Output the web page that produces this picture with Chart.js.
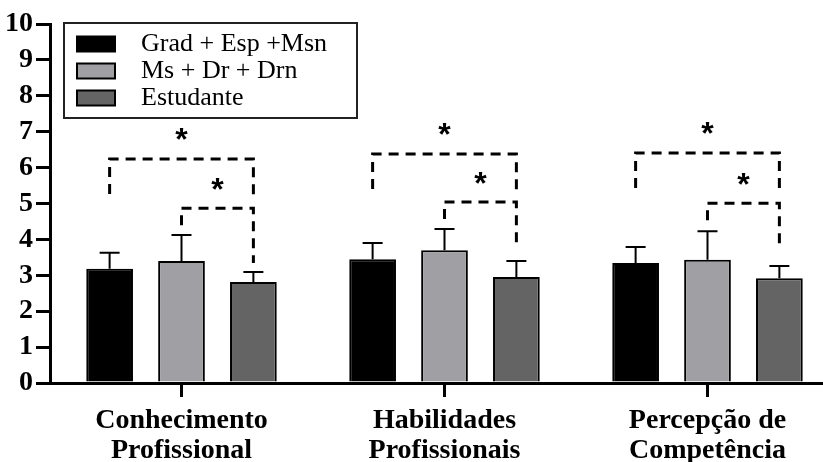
<!DOCTYPE html>
<html>
<head>
<meta charset="utf-8">
<script src="https://cdn.jsdelivr.net/npm/chart.js@4.4.1/dist/chart.umd.min.js"></script>
<style>
  body { margin: 0; overflow: hidden; background: #fff; }
</style>
</head>
<body>
<canvas id="grafico" width="839" height="462"></canvas>
<script>
const categorias = [['Conhecimento', 'Profissional'], ['Habilidades', 'Profissionais'], ['Percepção de', 'Competência']]
const grupos = ['Grad + Esp +Msn', 'Ms + Dr + Drn', 'Estudante']

// medias e desvios
const mediaGrad = [3.18, 3.45, 3.34]
const mediaMs = [3.40, 3.70, 3.43]
const mediaEst = [2.81, 2.95, 2.92]
const dpGrad = [0.45, 0.45, 0.45]
const dpMs = [0.72, 0.59, 0.80]
const dpEst = [0.28, 0.45, 0.34]

// colchetes de significancia
const nivelExterno = [6.24, 6.38, 6.41]
const nivelInterno = [4.87, 5.04, 5.01]
const fimDireito = [3.34, 3.76, 3.70]

const serif = "'Liberation Serif', 'Times New Roman', serif"

const barrasErro = {
  id: 'barrasErro',
  afterDatasetsDraw(chart) {
    const ctx = chart.ctx
    const y = chart.scales.y
    ctx.save()
    ctx.strokeStyle = '#000'
    ctx.lineWidth = 2
    chart.data.datasets.forEach((ds, i) => {
      chart.getDatasetMeta(i).data.forEach((bar, j) => {
        const topo = y.getPixelForValue(ds.data[j] + ds.dp[j])
        ctx.beginPath()
        ctx.moveTo(bar.x, bar.y)
        ctx.lineTo(bar.x, topo)
        ctx.moveTo(bar.x - 10, topo)
        ctx.lineTo(bar.x + 10, topo)
        ctx.stroke()
      })
    })
    ctx.restore()
  }
}

const colchetes = {
  id: 'colchetes',
  afterLayout(chart) {
    chart.legend.left = chart.chartArea.left + 26
    chart.legend.top = chart.chartArea.top + 6
  },
  afterDraw(chart) {
    const ctx = chart.ctx
    const y = chart.scales.y
    const a = chart.getDatasetMeta(0).data
    const b = chart.getDatasetMeta(1).data
    const c = chart.getDatasetMeta(2).data
    ctx.save()
    ctx.strokeStyle = '#000'
    ctx.lineWidth = 3
    ctx.setLineDash([10, 7])
    ctx.fillStyle = '#000'
    ctx.font = "bold 32px 'Liberation Sans', Arial, sans-serif"
    ctx.textAlign = 'center'
    ctx.textBaseline = 'alphabetic'
    for (let j = 0; j < categorias.length; j++) {
      const yExt = y.getPixelForValue(nivelExterno[j])
      const yInt = y.getPixelForValue(nivelInterno[j])
      const yFim = y.getPixelForValue(fimDireito[j])
      ctx.beginPath()
      ctx.moveTo(a[j].x, yExt + 35)
      ctx.lineTo(a[j].x, yExt)
      ctx.lineTo(c[j].x, yExt)
      ctx.lineTo(c[j].x, yInt - 10)
      ctx.stroke()
      ctx.beginPath()
      ctx.moveTo(b[j].x, yInt + 17)
      ctx.lineTo(b[j].x, yInt)
      ctx.lineTo(c[j].x, yInt)
      ctx.lineTo(c[j].x, yFim)
      ctx.stroke()
      ctx.fillText('*', b[j].x, yExt - 9)
      ctx.fillText('*', (b[j].x + c[j].x) / 2, yInt - 8)
    }
    // moldura da legenda
    const lg = chart.legend
    ctx.setLineDash([])
    ctx.lineWidth = 2
    ctx.strokeStyle = '#222'
    ctx.strokeRect(lg.left - 12, lg.top - 7, 293, 95)
    ctx.restore()
  }
}

new Chart(document.getElementById('grafico'), {
  type: 'bar',
  data: {
    labels: categorias,
    datasets: [
      { label: grupos[0], data: mediaGrad, dp: dpGrad, backgroundColor: '#000000' },
      { label: grupos[1], data: mediaMs, dp: dpMs, backgroundColor: '#a0a0a4' },
      { label: grupos[2], data: mediaEst, dp: dpEst, backgroundColor: '#646464' }
    ].map(d => ({ ...d, borderColor: '#000', borderWidth: 2, barPercentage: 0.65, categoryPercentage: 0.82 }))
  },
  options: {
    responsive: false,
    animation: false,
    layout: { padding: { top: 24, right: 0, bottom: 0, left: 0 } },
    plugins: {
      tooltip: { enabled: false },
      legend: {
        position: 'chartArea',
        align: 'start',
        labels: {
          color: '#000',
          font: { family: serif, size: 26 },
          boxWidth: 38,
          boxHeight: 15,
          padding: 1,
          generateLabels: (chart) => Chart.defaults.plugins.legend.labels.generateLabels(chart)
            .map(l => ({ ...l, text: '\u2002' + l.text }))
        }
      }
    },
    scales: {
      x: {
        afterFit: (s) => { s.height = 79 },
        offset: true,
        grid: { offset: false, drawOnChartArea: false, drawTicks: true, tickLength: 14, lineWidth: 3, color: '#000' },
        border: { display: true, width: 3, color: '#000' },
        ticks: {
          color: '#000',
          padding: 9,
          maxRotation: 0,
          autoSkip: false,
          font: { family: serif, size: 28, weight: 'bold', lineHeight: 1.07 }
        }
      },
      y: {
        min: 0,
        max: 10,
        afterFit: (s) => { s.width = 50 },
        grid: { drawOnChartArea: false, drawTicks: true, tickLength: 14, lineWidth: 3, color: '#000' },
        border: { display: true, width: 3, color: '#000' },
        ticks: {
          stepSize: 1,
          autoSkip: false,
          color: '#000',
          padding: 3,
          font: { family: serif, size: 28, weight: 'bold' }
        }
      }
    }
  },
  plugins: [barrasErro, colchetes]
})
</script>
</body>
</html>
